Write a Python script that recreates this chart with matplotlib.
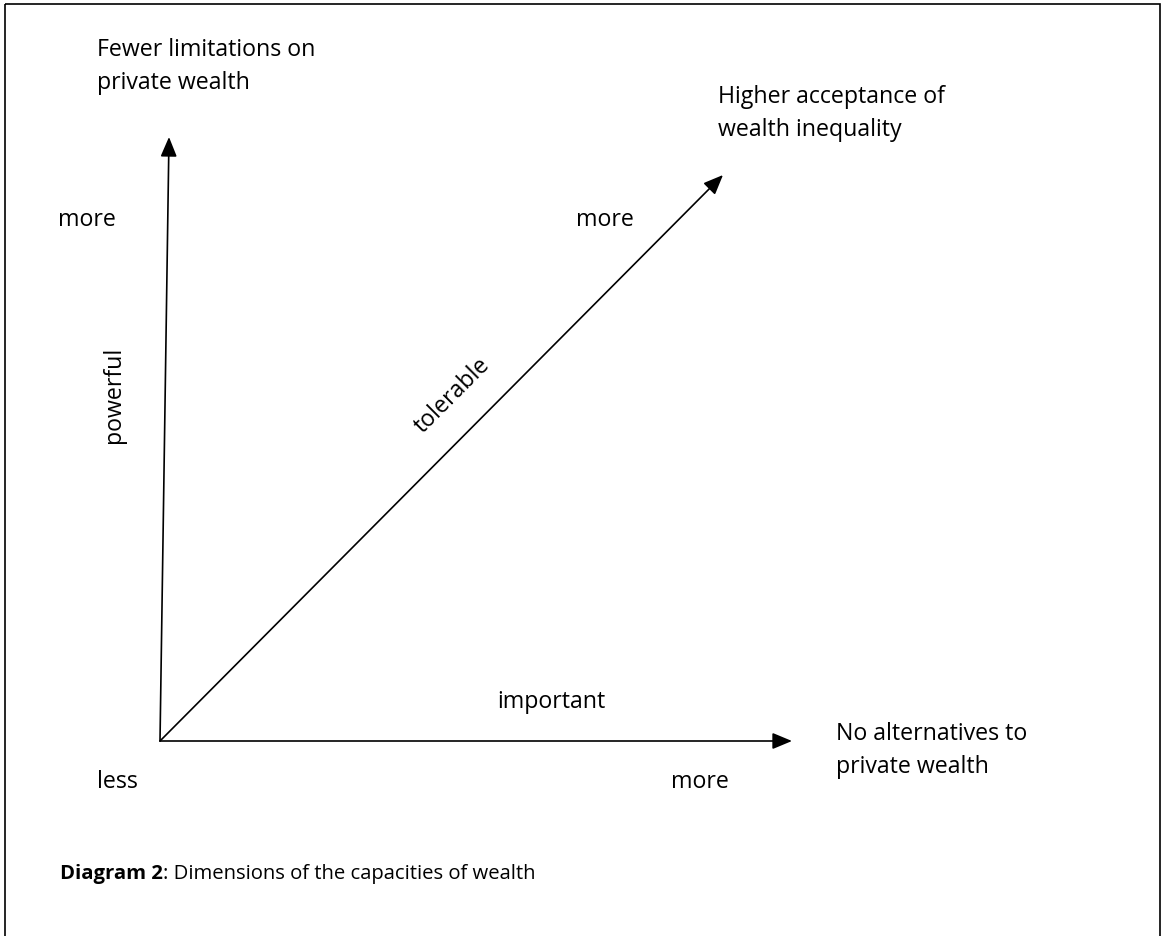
import matplotlib.pyplot as plt
from matplotlib.patches import Rectangle

plt.rcParams['font.family'] = ['Open Sans', 'DejaVu Sans']

# Diagram geometry (pixel space of the 1161x937 canvas)
origin = (160, 742)
arrow_tips = [(169, 138), (723, 176), (792, 742)]

# Axis end labels: (x, y, text)
end_labels = [
    (97, 50, 'Fewer limitations on'),
    (97, 83, 'private wealth'),
    (718, 97, 'Higher acceptance of'),
    (718, 130, 'wealth inequality'),
    (836, 734, 'No alternatives to'),
    (836, 767, 'private wealth'),
]
# small labels: (x, y, text)
small_labels = [
    (58, 220, 'more'),
    (576, 220, 'more'),
    (497, 702, 'important'),
    (97, 782, 'less'),
    (671, 782, 'more'),
]
# rotated labels: (x, y, text, angle)
rotated_labels = [
    (114, 395, 'powerful', 90),
    (452, 396, 'tolerable', 45),
]

fs = 16.7
fs_cap = 14.6

fig = plt.figure(figsize=(11.61, 9.37), dpi=100)
ax = fig.add_axes([0, 0, 1, 1])
ax.set_xlim(0, 1161)
ax.set_ylim(937, 0)
ax.axis('off')

# frame (bottom edge falls outside the picture)
ax.add_patch(Rectangle((5, 5), 1155, 940, fill=False, ec='black', lw=1.2))

for tip in arrow_tips:
    ax.annotate('', xy=tip, xytext=origin,
                arrowprops=dict(arrowstyle='-|>,head_length=0.6,head_width=0.25',
                                mutation_scale=20, lw=1.2, color='black',
                                shrinkA=0, shrinkB=0))

for x, y, t in end_labels + small_labels:
    ax.text(x, y, t, fontsize=fs, ha='left', va='center')

for x, y, t, a in rotated_labels:
    ax.text(x, y, t, fontsize=fs, ha='center', va='center', rotation=a,
            rotation_mode='anchor')

cap = ax.text(60, 874, 'Diagram 2', fontsize=fs_cap, fontweight='bold',
              ha='left', va='center')
ax.annotate(': Dimensions of the capacities of wealth', xycoords=cap,
            xy=(1, 0.5), va='center', ha='left', fontsize=fs_cap)

fig.savefig('out.png', dpi=100)
